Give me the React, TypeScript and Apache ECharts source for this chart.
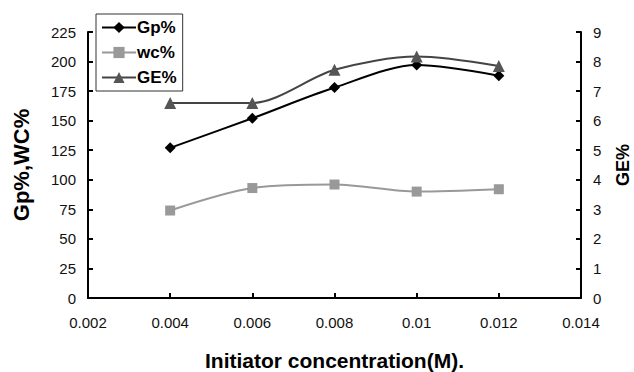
import React, { useEffect, useRef } from "react";
import * as echarts from "echarts";

const concentrations = [0.004, 0.006, 0.008, 0.01, 0.012];
const gpValues = [127, 152, 178, 197, 188];
const wcValues = [74, 93, 96, 90, 92];
const geValues = [6.6, 6.6, 7.72, 8.17, 7.85];

const FONT = "'Liberation Sans', Arial, sans-serif";

export default function App() {
  const ref = useRef<HTMLDivElement>(null);
  useEffect(() => {
    if (!ref.current) return;
    const chart = echarts.init(ref.current, undefined, { renderer: "svg" });
    const toPairs = (vals: number[]) => concentrations.map((c, i) => [c, vals[i]]);
    const axisCommon = {
      axisLine: { show: true, lineStyle: { color: "#000", width: 2 } },
      axisTick: { show: true, inside: true, length: 5, lineStyle: { color: "#000", width: 2 } },
      splitLine: { show: false },
      axisLabel: { color: "#111", fontSize: 15, fontFamily: FONT },
    };
    const titleStyle = { fontSize: 20, fontWeight: "bold", fontFamily: FONT, color: "#000" };
    chart.setOption({
      animation: false,
      backgroundColor: "#fff",
      grid: { left: 88, right: 53, top: 32, bottom: 74, containLabel: false, outerBoundsMode: "none" },
      legend: {
        left: 96,
        top: 14,
        orient: "vertical",
        itemGap: 8,
        itemWidth: 34,
        itemHeight: 14,
        padding: [5, 6, 5, 5],
        borderColor: "#333",
        borderWidth: 1,
        backgroundColor: "#fff",
        textStyle: { fontSize: 17, fontWeight: "bold", fontFamily: FONT, color: "#000", padding: [0, 0, 0, -4] },
        data: ["Gp%", "wc%", "GE%"],
      },
      xAxis: {
        type: "value",
        min: 0.002,
        max: 0.014,
        interval: 0.002,
        ...axisCommon,
        axisLabel: {
          ...axisCommon.axisLabel,
          margin: 17,
          formatter: (v: number) => String(+v.toFixed(3)),
        },
        name: "Initiator concentration(M).",
        nameLocation: "middle",
        nameGap: 52,
        nameTextStyle: { ...titleStyle, fontSize: 21 },
      },
      yAxis: [
        {
          type: "value",
          min: 0,
          max: 225,
          interval: 25,
          ...axisCommon,
          axisLabel: { ...axisCommon.axisLabel, margin: 12 },
          name: "Gp%,WC%",
          nameLocation: "middle",
          nameGap: 56,
          nameRotate: 90,
          nameTextStyle: { ...titleStyle, fontSize: 22 },
        },
        {
          type: "value",
          min: 0,
          max: 9,
          interval: 1,
          position: "right",
          ...axisCommon,
          axisLabel: { ...axisCommon.axisLabel, margin: 12 },
          name: "GE%",
          nameLocation: "middle",
          nameGap: 33,
          nameRotate: 90,
          nameTextStyle: { ...titleStyle, fontSize: 18 },
        },
      ],
      series: [
        {
          name: "Gp%",
          type: "line",
          smooth: 0.3,
          yAxisIndex: 0,
          data: toPairs(gpValues),
          symbol: "diamond",
          symbolSize: 11,
          itemStyle: { color: "#000" },
          lineStyle: { color: "#000", width: 2 },
          z: 3,
        },
        {
          name: "wc%",
          type: "line",
          smooth: 0.3,
          yAxisIndex: 0,
          data: toPairs(wcValues),
          symbol: "rect",
          symbolSize: 10,
          itemStyle: { color: "#999" },
          lineStyle: { color: "#999", width: 2 },
        },
        {
          name: "GE%",
          type: "line",
          smooth: 0.3,
          yAxisIndex: 1,
          data: toPairs(geValues),
          symbol: "triangle",
          symbolSize: 12,
          itemStyle: { color: "#555" },
          lineStyle: { color: "#444", width: 2 },
        },
      ],
    });
    return () => chart.dispose();
  }, []);
  return <div ref={ref} style={{ width: 634, height: 372, position: "absolute", left: 0, top: 0 }} />;
}
